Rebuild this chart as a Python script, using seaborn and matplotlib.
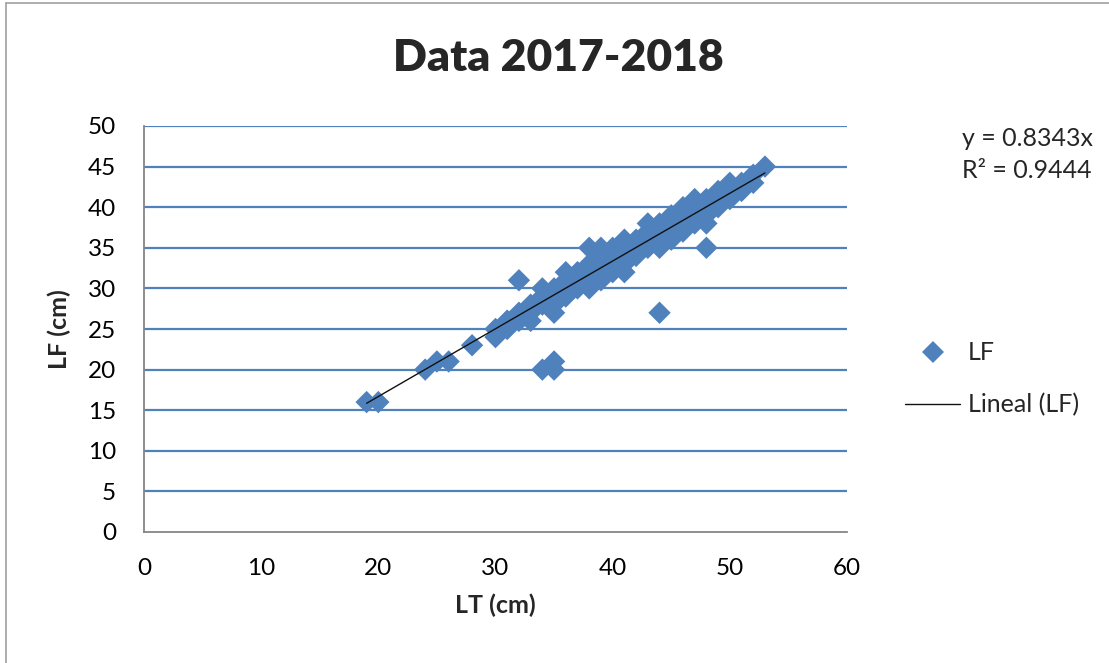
import numpy as np
import pandas as pd
import matplotlib
matplotlib.use("Agg")
import matplotlib.pyplot as plt
import seaborn as sns
from matplotlib.lines import Line2D

# ---- data ----
LT = [19, 20, 24, 25, 26, 28,
      30, 30, 31, 31, 31, 32, 32, 32,
      33, 33, 33, 34, 34, 34, 34,
      35, 35, 35, 35, 35, 35,
      36, 36, 36, 36, 37, 37, 37,
      38, 38, 38, 38, 38, 39, 39, 39, 39, 39,
      40, 40, 40, 40, 41, 41, 41, 41, 41,
      42, 42, 42, 43, 43, 43, 43,
      44, 44, 44, 44, 44, 45, 45, 45, 45,
      46, 46, 46, 46, 47, 47, 47, 47,
      48, 48, 48, 48, 48, 49, 49, 49,
      50, 50, 50, 51, 51, 52, 52, 53]
LF = [16, 16, 20, 21, 21, 23,
      24, 25, 25, 26, 26, 26, 27, 31,
      26, 27, 28, 28, 29, 30, 20,
      27, 28, 29, 30, 20, 21,
      29, 30, 31, 32, 30, 31, 32,
      30, 31, 32, 33, 35, 31, 32, 33, 34, 35,
      32, 33, 34, 35, 32, 33, 34, 35, 36,
      34, 35, 36, 35, 36, 37, 38,
      35, 36, 37, 38, 27, 36, 37, 38, 39,
      37, 38, 39, 40, 38, 39, 40, 41,
      39, 40, 41, 35, 38, 40, 41, 42,
      41, 42, 43, 42, 43, 43, 44, 45]
SLOPE = 0.8343
R2 = 0.9444
TITLE = "Data 2017-2018"
X_TICKS = [0, 10, 20, 30, 40, 50, 60]
Y_TICKS = [0, 5, 10, 15, 20, 25, 30, 35, 40, 45, 50]

df = pd.DataFrame({"LT": LT, "LF": LF})

sns.set_theme(style="white")
plt.rcParams["font.family"] = ["Lato", "DejaVu Sans"]

W, H = 1109, 663
fig = plt.figure(figsize=(W / 100, H / 100), dpi=100)
ax = fig.add_axes([144 / W, 1 - 532 / H, (847 - 144) / W, (532 - 126) / H])

BLUE = "#4F81BD"
GRID = "#4F81BD"
GRAY = "#868686"

for yv in Y_TICKS[1:]:
    ax.axhline(yv, color=GRID, lw=1.6, zorder=0)

sns.scatterplot(data=df, x="LT", y="LF", marker="D", s=130, color=BLUE,
                edgecolor="none", linewidth=0, ax=ax, zorder=3, legend=False)

xs = np.array([min(LT), max(LT)], dtype=float)
trend = pd.DataFrame({"x": xs, "y": SLOPE * xs})
sns.lineplot(data=trend, x="x", y="y", color="#111111", lw=1.0, ax=ax, zorder=4,
             legend=False)

ax.set_xlim(0, 60)
ax.set_ylim(0, 50)
ax.set_xticks(X_TICKS)
ax.set_yticks(Y_TICKS)
ax.tick_params(axis="both", direction="out", length=8, width=1.3, color=GRAY,
               labelsize=17.5, labelcolor="black")
ax.tick_params(axis="x", pad=11)
ax.tick_params(axis="y", pad=12)
for s in ["top", "right"]:
    ax.spines[s].set_visible(False)
for s in ["left", "bottom"]:
    ax.spines[s].set_color(GRAY)
    ax.spines[s].set_linewidth(1.3)

ax.set_xlabel("LT (cm)", fontsize=18, fontweight="bold", labelpad=10)
ax.set_ylabel("LF (cm)", fontsize=18, fontweight="bold", labelpad=12)

fig.text(558 / W, 1 - 58 / H, TITLE, ha="center", va="center",
         fontsize=32, fontweight="heavy")

fig.text(962 / W, 1 - 138 / H, f"y = {SLOPE}x", ha="left", va="center",
         fontsize=18)
fig.text(962 / W, 1 - 171 / H, f"R\u00b2 = {R2}", ha="left", va="center",
         fontsize=18)

handles = [Line2D([], [], marker="D", color=BLUE, linestyle="none",
                  markersize=11, markeredgewidth=0),
           Line2D([], [], color="#111111", lw=1.0)]
fig.legend(handles, ["LF", "Lineal (LF)"], loc="center left",
           bbox_to_anchor=(905 / W, 1 - 379 / H), frameon=False,
           fontsize=18, handlelength=2.2, handletextpad=0.3,
           labelspacing=1.15, borderpad=0, borderaxespad=0)

# outer chart border (left and top visible)
fig.add_artist(Line2D([6 / W, 6 / W], [0, 1 - 3 / H], color="#A0A0A0", lw=1.2))
fig.add_artist(Line2D([6 / W, 1], [1 - 3 / H, 1 - 3 / H], color="#A0A0A0", lw=1.2))

fig.savefig("out.png", dpi=100)
